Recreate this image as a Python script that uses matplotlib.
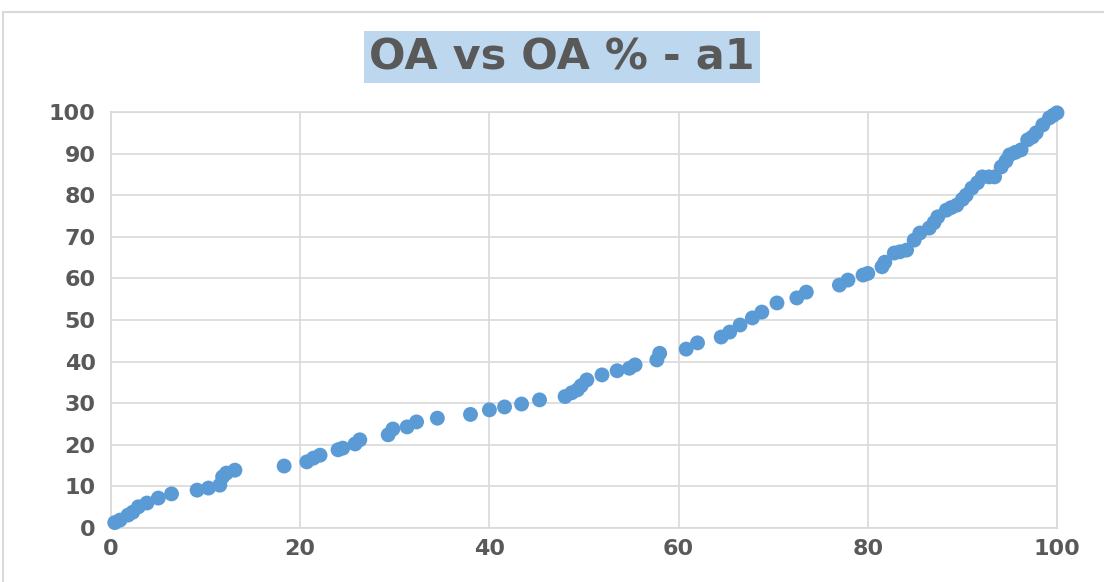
import matplotlib.pyplot as plt
from matplotlib.patches import Rectangle

# values
oa = [0.4, 0.95, 1.8, 2.3, 2.9, 3.8, 5.0, 6.4, 9.1, 10.3, 11.5, 11.8, 12.2, 13.1,
      18.3, 20.7, 21.4, 22.1, 24.0, 24.5, 25.8, 26.3, 29.3, 29.8, 31.3, 32.3,
      34.5, 38.0, 40.0, 41.6, 43.4, 45.3, 48.0, 48.7, 49.3, 49.7, 50.3, 51.9,
      53.5, 54.8, 55.4, 57.7, 58.0, 60.8, 62.0, 64.5, 65.4, 66.5, 67.8, 68.8,
      70.4, 72.5, 73.5, 77.0, 77.9, 79.5, 80.0, 81.5, 81.8, 82.8, 83.4, 84.1,
      84.9, 85.5, 86.5, 87.0, 87.4, 88.3, 88.8, 89.4, 90.0, 90.4, 91.0, 91.6,
      92.1, 92.8, 93.4, 94.1, 94.6, 95.0, 95.6, 96.2, 96.9, 97.4, 97.8, 98.5,
      99.2, 99.6, 100.0]
oa_pct = [1.3, 1.9, 3.1, 3.8, 5.1, 6.0, 7.2, 8.2, 9.1, 9.6, 10.3, 12.3, 13.2, 13.9,
          14.9, 15.9, 16.8, 17.5, 18.8, 19.2, 20.2, 21.2, 22.4, 23.8, 24.3, 25.5,
          26.4, 27.3, 28.4, 29.1, 29.8, 30.8, 31.6, 32.5, 33.2, 34.2, 35.6, 36.8,
          37.8, 38.4, 39.2, 40.4, 42.0, 43.0, 44.5, 45.9, 47.1, 48.8, 50.5, 51.9,
          54.1, 55.3, 56.7, 58.4, 59.6, 60.8, 61.2, 62.8, 63.9, 66.1, 66.4, 66.8,
          69.2, 70.9, 72.1, 73.4, 74.8, 76.4, 77.0, 77.6, 79.0, 80.0, 81.7, 83.0,
          84.4, 84.4, 84.4, 86.8, 88.2, 89.7, 90.3, 90.9, 93.3, 94.0, 95.0, 96.9,
          98.6, 99.2, 99.8]
ticks = [0, 20, 40, 60, 80, 100]
yticks = [0, 10, 20, 30, 40, 50, 60, 70, 80, 90, 100]

txt = '#595959'
fig = plt.figure(figsize=(11.04, 5.82), dpi=100)
fig.patches.append(Rectangle((3 / 1104, -0.01), 1.1, 1 - 12 / 582 + 0.01,
                             transform=fig.transFigure, fill=False,
                             edgecolor='#d9d9d9', lw=1.5))

ax = fig.add_axes([111 / 1104, 1 - 528 / 582, (1057 - 111) / 1104, (528 - 112) / 582])
ax.scatter(oa, oa_pct, s=115, color='#5b9bd5', edgecolors='none', zorder=3,
           clip_on=False)
ax.set_xlim(0, 100)
ax.set_ylim(0, 100)
ax.set_xticks(ticks)
ax.set_yticks(yticks)
ax.grid(True, color='#d9d9d9', lw=1.2)
ax.set_axisbelow(True)
for s in ax.spines.values():
    s.set_color('#d9d9d9')
    s.set_linewidth(1.2)
ax.tick_params(length=0, labelsize=16, labelcolor=txt)
ax.tick_params(axis='y', pad=11)
ax.tick_params(axis='x', pad=8)
for lab in ax.get_xticklabels() + ax.get_yticklabels():
    lab.set_fontweight('bold')

fig.text(0.509, 0.902, 'OA vs OA % - a1', ha='center', va='center',
         fontsize=31, fontweight='bold', color=txt,
         bbox=dict(boxstyle='square,pad=0.12', facecolor='#bdd7ee', edgecolor='none'))

fig.savefig('out.png', dpi=100)
